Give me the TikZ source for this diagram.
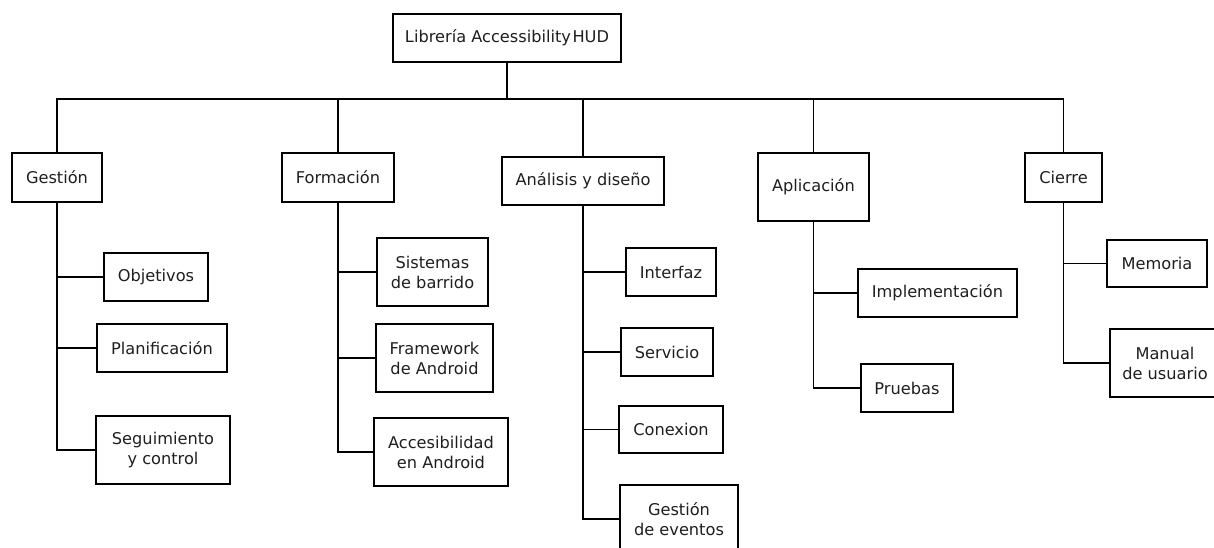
\documentclass[tikz,border=0pt]{standalone}
\usepackage{fontspec}
\setmainfont{DejaVu Sans}
\begin{document}
\begin{tikzpicture}[x=1pt,y=-1pt,
  box/.style={draw=black, fill=white, line width=1.8pt, inner sep=0pt,
    align=center, text=black!88, font=\fontsize{16.2}{20}\selectfont},
  link/.style={draw=black, line width=1.8pt}]
\useasboundingbox (0,0) rectangle (1214,548);
% root and level 1
\node[box, minimum width=228, minimum height=48] (root) at (507,38) {Librería Accessibility\kern1.5pt HUD};
\node[box, minimum width=90,  minimum height=49] (gest) at (57,177.5) {Gestión};
\node[box, minimum width=112, minimum height=49] (form) at (338,177.5) {Formación};
\node[box, minimum width=162, minimum height=48] (anal) at (583,181) {Análisis y diseño};
\node[box, minimum width=111, minimum height=68] (apli) at (813.5,187) {Aplicación};
\node[box, minimum width=77,  minimum height=49] (cier) at (1063.5,177.5) {Cierre};
% Gestión children
\node[box, minimum width=104, minimum height=48] (obj)  at (156,277) {Objetivos};
\node[box, minimum width=130, minimum height=48] (plan) at (162,348) {Planificación};
\node[box, minimum width=134, minimum height=68] (seg)  at (163,450) {Seguimiento\\y control};
% Formación children
\node[box, minimum width=111, minimum height=68] (sist) at (432.5,272) {Sistemas\\de barrido};
\node[box, minimum width=117, minimum height=68] (fram) at (434.5,358) {Framework\\de Android};
\node[box, minimum width=134, minimum height=68] (acc)  at (441,452) {Accesibilidad\\en Android};
% Análisis children
\node[box, minimum width=90,  minimum height=48] (intf) at (671,272) {Interfaz};
\node[box, minimum width=92,  minimum height=48] (serv) at (667,352) {Servicio};
\node[box, minimum width=104, minimum height=47] (conx) at (671,429.5) {Conexion};
\node[box, minimum width=118, minimum height=68] (gev)  at (679,519) {Gestión\\de eventos};
% Aplicación children
\node[box, minimum width=159, minimum height=48] (impl) at (937.5,293) {Implementación};
\node[box, minimum width=92,  minimum height=48] (prue) at (907,388) {Pruebas};
% Cierre children
\node[box, minimum width=100, minimum height=47] (mem)  at (1157,263.5) {Memoria};
\node[box, minimum width=110, minimum height=68] (man)  at (1165,363) {Manual\\de usuario};
% bus
\coordinate (busy) at (0,99);
\draw[link] (gest.north) -- (gest.north |- busy) -- (cier.north |- busy) -- (cier.north);
\draw[link] (root.south) -- (root.south |- busy);
\draw[link] (form.north) -- (form.north |- busy);
\draw[link] (anal.north) -- (anal.north |- busy);
\draw[link] (apli.north) -- (apli.north |- busy);
% Gestión
\draw[link] (gest.south) |- (seg.west);
\draw[link] (gest.south |- obj.west) -- (obj.west);
\draw[link] (gest.south |- plan.west) -- (plan.west);
% Formación
\draw[link] (form.south) |- (acc.west);
\draw[link] (form.south |- sist.west) -- (sist.west);
\draw[link] (form.south |- fram.west) -- (fram.west);
% Análisis
\draw[link] (anal.south) |- (gev.west);
\draw[link] (anal.south |- intf.west) -- (intf.west);
\draw[link] (anal.south |- serv.west) -- (serv.west);
\draw[link] (anal.south |- conx.west) -- (conx.west);
% Aplicación
\draw[link] (apli.south) |- (prue.west);
\draw[link] (apli.south |- impl.west) -- (impl.west);
% Cierre
\draw[link] (cier.south) |- (man.west);
\draw[link] (cier.south |- mem.west) -- (mem.west);
\end{tikzpicture}
\end{document}
